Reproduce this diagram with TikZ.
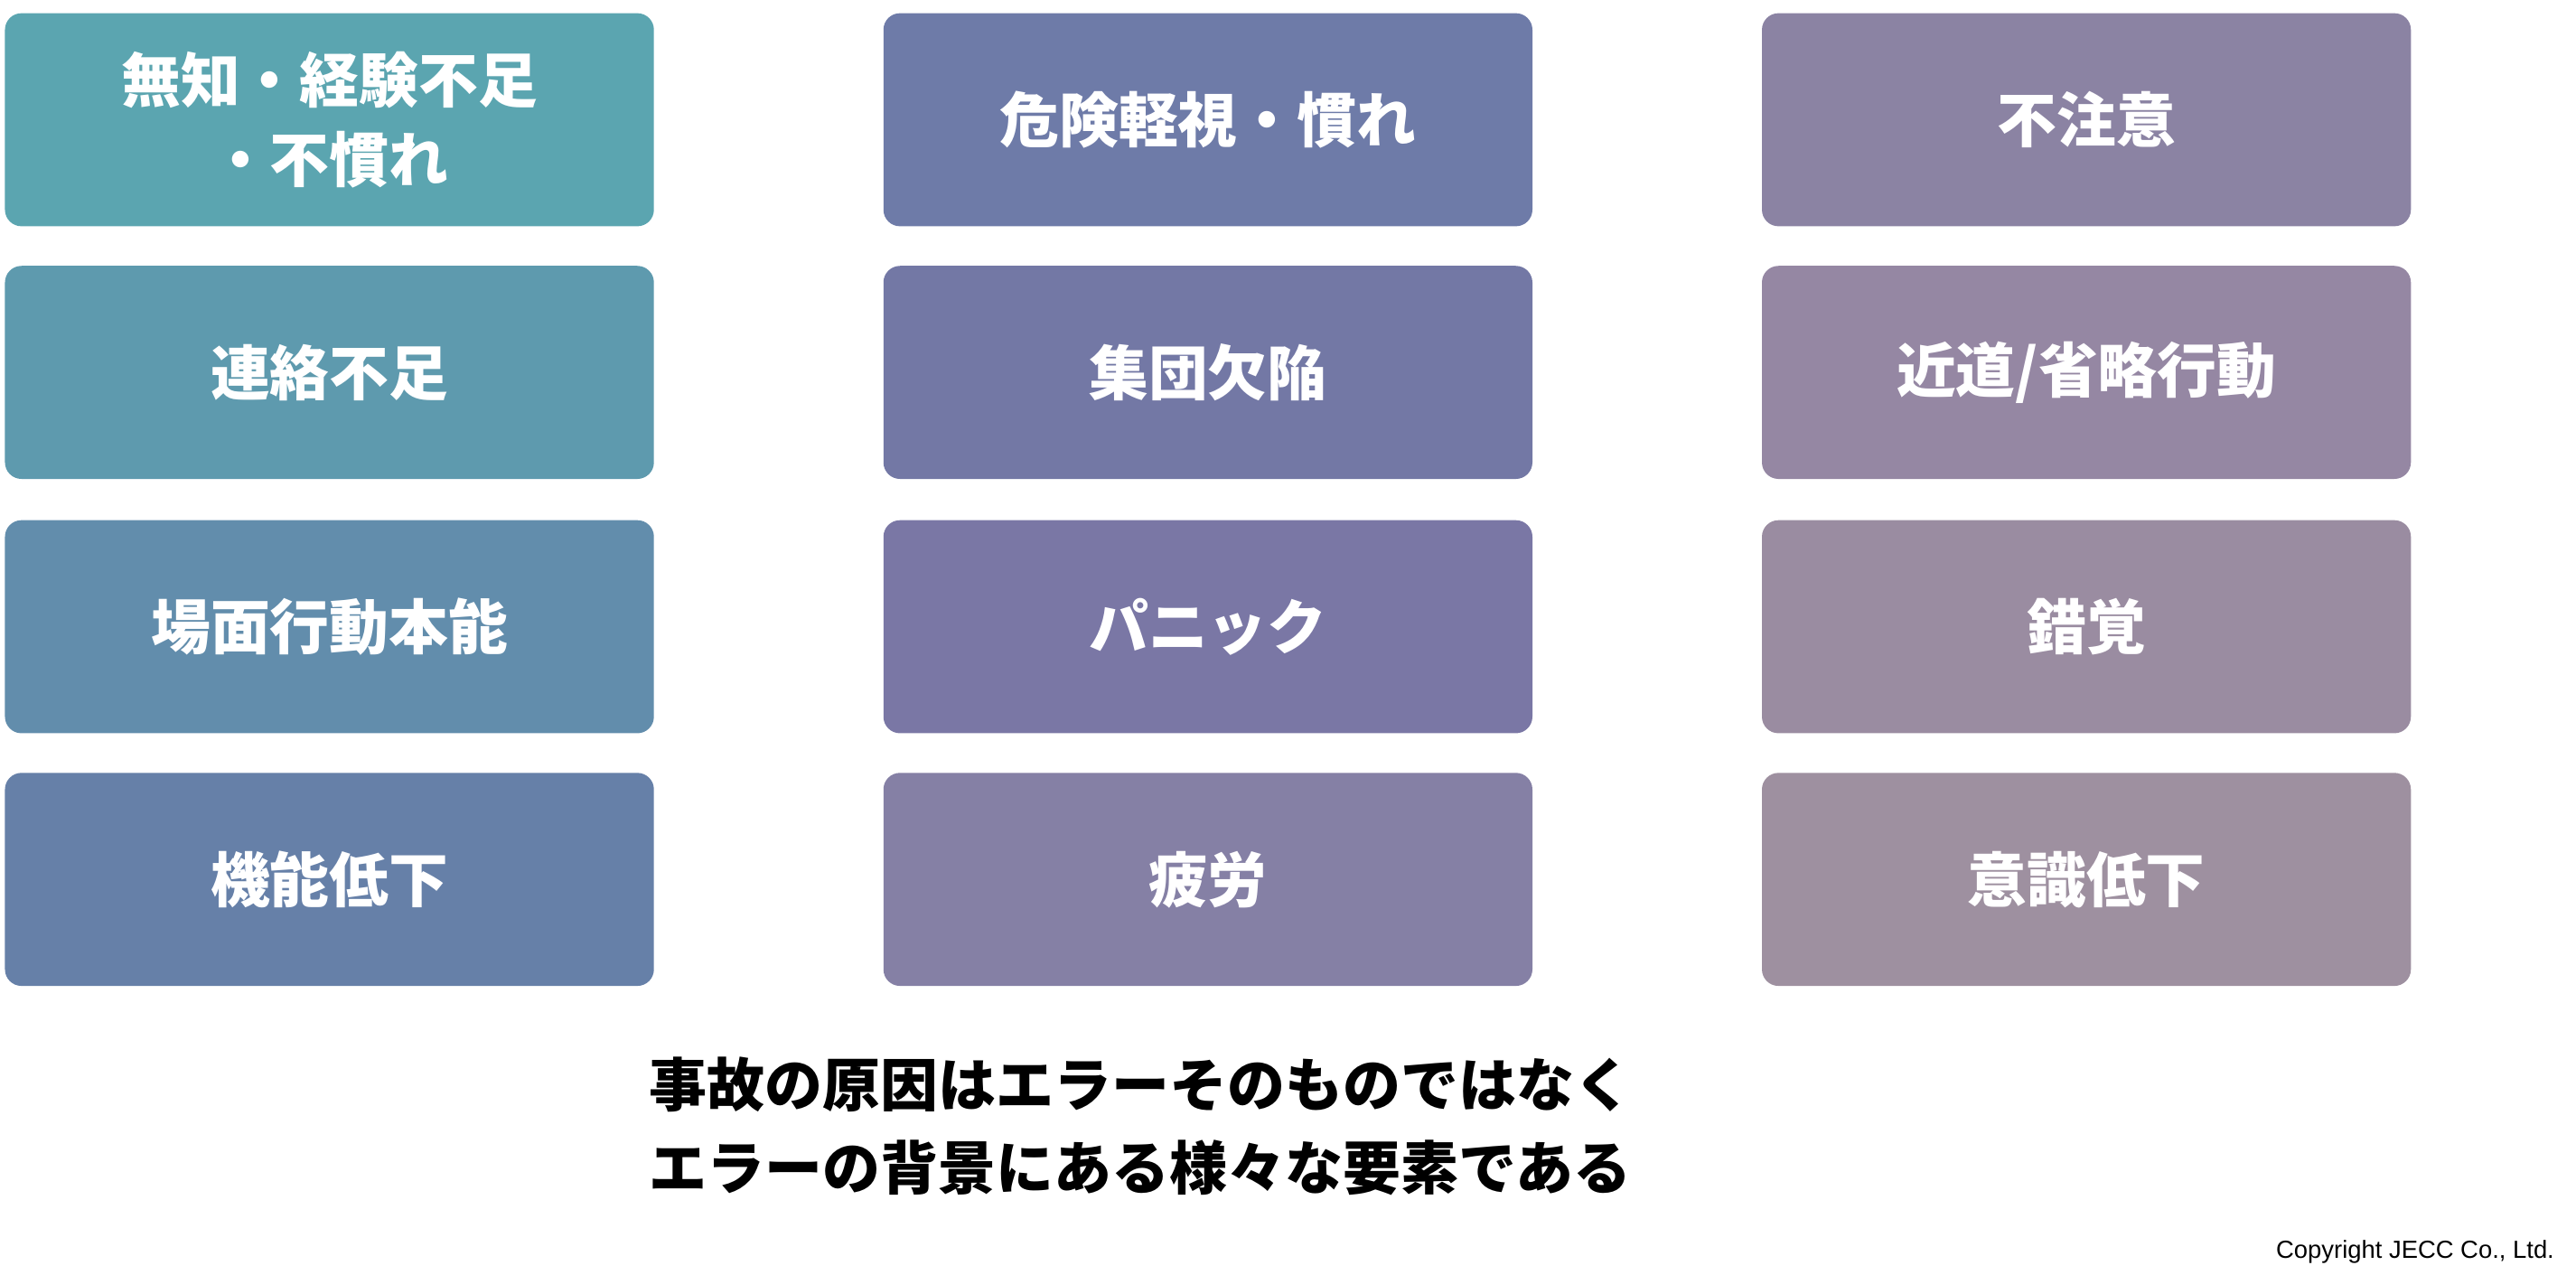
\documentclass[tikz,border=0pt]{standalone}
\usepackage{fontspec}
\newfontfamily\jp{Noto Sans CJK JP}
\setsansfont{Liberation Sans}
\definecolor{cA1}{HTML}{5BA5B0}
\definecolor{cA2}{HTML}{5E9AAE}
\definecolor{cA3}{HTML}{628DAC}
\definecolor{cA4}{HTML}{6680A8}
\definecolor{cB1}{HTML}{6E7BA8}
\definecolor{cB2}{HTML}{7378A5}
\definecolor{cB3}{HTML}{7A77A5}
\definecolor{cB4}{HTML}{8580A5}
\definecolor{cC1}{HTML}{8B83A3}
\definecolor{cC2}{HTML}{9587A3}
\definecolor{cC3}{HTML}{9A8CA1}
\definecolor{cC4}{HTML}{9E90A0}
\tikzset{
  causebox/.style={rounded corners=10pt, minimum width=393pt, minimum height=129pt,
    text=white, align=center, font=\jp\bfseries\fontsize{36}{48}\selectfont, inner sep=0pt},
  notetext/.style={anchor=north west, align=left, inner sep=0pt,
    font=\jp\bfseries\fontsize{35}{50}\selectfont}
}
\begin{document}
\begin{tikzpicture}[x=1pt,y=1pt,yscale=-1]
  \useasboundingbox (0,0) rectangle (1560,772);
  % column 1
  \node[causebox, fill=cA1] (mutchi) at (199.5,72.5) {無知・経験不足\\・不慣れ};
  \node[causebox, fill=cA2] (renraku) at (199.5,225.5) {連絡不足};
  \node[causebox, fill=cA3] (bamen) at (199.5,379.5) {場面行動本能};
  \node[causebox, fill=cA4] (kinou) at (199.5,532.5) {機能低下};
  % column 2
  \node[causebox, fill=cB1] (kiken) at (731.5,72.5) {危険軽視・慣れ};
  \node[causebox, fill=cB2] (shuudan) at (731.5,225.5) {集団欠陥};
  \node[causebox, fill=cB3] (panic) at (731.5,379.5) {パニック};
  \node[causebox, fill=cB4] (hirou) at (731.5,532.5) {疲労};
  % column 3
  \node[causebox, fill=cC1] (fuchui) at (1263.5,72.5) {不注意};
  \node[causebox, fill=cC2] (chikamichi) at (1263.5,225.5) {近道/省略行動};
  \node[causebox, fill=cC3] (sakkaku) at (1263.5,379.5) {錯覚};
  \node[causebox, fill=cC4] (ishiki) at (1263.5,532.5) {意識低下};
  % message
  \node[notetext] (message) at (393,640) {事故の原因はエラーそのものではなく\\エラーの背景にある様々な要素である};
  \node[anchor=south east, inner sep=0pt, font=\sffamily\fontsize{15}{18}\selectfont] (copyright) at (1547,765) {Copyright JECC Co., Ltd.};
\end{tikzpicture}
\end{document}
